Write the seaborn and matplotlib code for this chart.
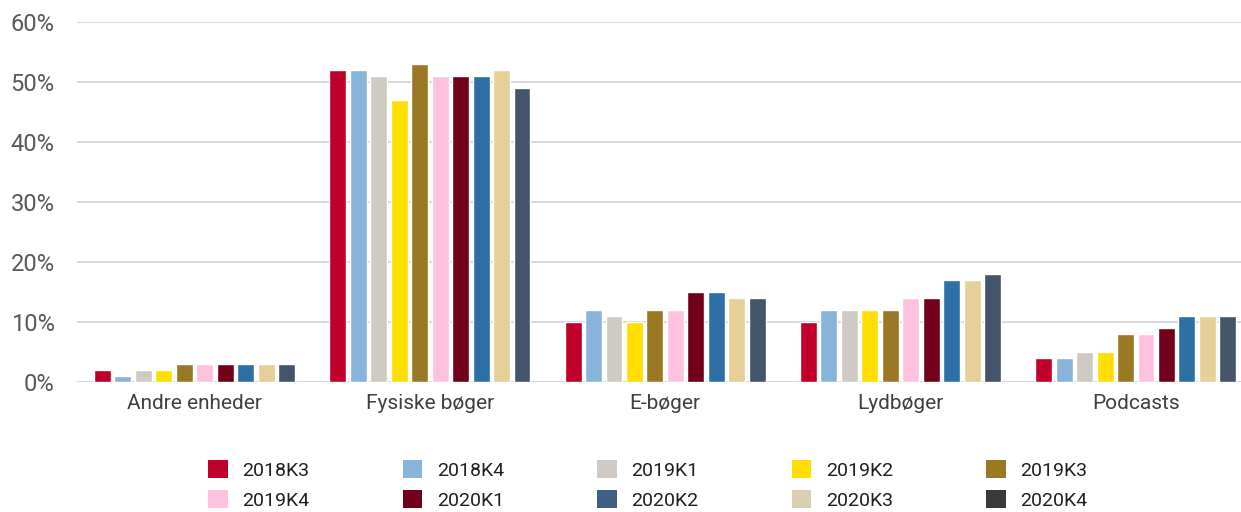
import matplotlib
matplotlib.use("Agg")
import matplotlib.pyplot as plt
from matplotlib.patches import Patch
from matplotlib.ticker import PercentFormatter
import seaborn as sns
import pandas as pd

categories = ["Andre enheder", "Fysiske bøger", "E-bøger", "Lydbøger", "Podcasts"]
periods = ["2018K3", "2018K4", "2019K1", "2019K2", "2019K3",
           "2019K4", "2020K1", "2020K2", "2020K3", "2020K4"]

# share (%) per period, one list per category
andre_enheder = [2, 1, 2, 2, 3, 3, 3, 3, 3, 3]
fysiske_boger = [52, 52, 51, 47, 53, 51, 51, 51, 52, 49]
e_boger = [10, 12, 11, 10, 12, 12, 15, 15, 14, 14]
lydboger = [10, 12, 12, 12, 12, 14, 14, 17, 17, 18]
podcasts = [4, 4, 5, 5, 8, 8, 9, 11, 11, 11]

bar_colors = ["#C0002B", "#88B4DC", "#CFCBC4", "#FFDF00", "#9B7924",
              "#FEC2E0", "#72001A", "#2E6FA8", "#E6CF98", "#44546A"]
legend_colors = ["#C0002B", "#88B4DC", "#CFCBC4", "#FFDF00", "#9B7924",
                 "#FEC2E0", "#72001A", "#3F5F85", "#D9CFB0", "#3A3A3A"]

rows = []
for cat, vals in zip(categories, [andre_enheder, fysiske_boger, e_boger, lydboger, podcasts]):
    for p, v in zip(periods, vals):
        rows.append({"Kategori": cat, "Periode": p, "Andel": v})
df = pd.DataFrame(rows)

sns.set_theme(style="white")
plt.rcParams["font.family"] = ["Roboto", "DejaVu Sans"]

fig = plt.figure(figsize=(12.41, 5.12), dpi=100)
ax = fig.add_axes([0.062, 0.254, 0.948, 0.703])

sns.barplot(data=df, x="Kategori", y="Andel", hue="Periode",
            order=categories, hue_order=periods,
            palette=bar_colors, width=0.87, gap=0.17,
            saturation=1, legend=False, ax=ax, zorder=3)

ax.set_ylim(0, 60)
ax.set_xlim(-0.5, 4.5)
ax.set_yticks(range(0, 61, 10))
ax.yaxis.set_major_formatter(PercentFormatter(decimals=0))
ax.grid(axis="y", color="#D9D9D9", linewidth=1.5, zorder=0)
ax.set_axisbelow(True)
for s in ax.spines.values():
    s.set_visible(False)
ax.set_xlabel("")
ax.set_ylabel("")
ax.tick_params(axis="y", labelsize=17, colors="#595959", length=0, pad=16)
ax.tick_params(axis="x", labelsize=15, colors="#404040", length=0, pad=9)

# legend entries laid out row by row (matplotlib fills columns first)
order = [i for pair in zip(range(5), range(5, 10)) for i in pair]
handles = [Patch(facecolor=legend_colors[i], edgecolor="none") for i in order]
labels = [periods[i] for i in order]
fig.legend(handles, labels, loc="center", bbox_to_anchor=(0.522, 0.053),
           ncol=5, frameon=False, fontsize=14, handlelength=1.0,
           handleheight=1.0, handletextpad=0.75, columnspacing=4.8,
           labelspacing=0.55, labelcolor="#202020")

fig.savefig("out.png", dpi=100)
